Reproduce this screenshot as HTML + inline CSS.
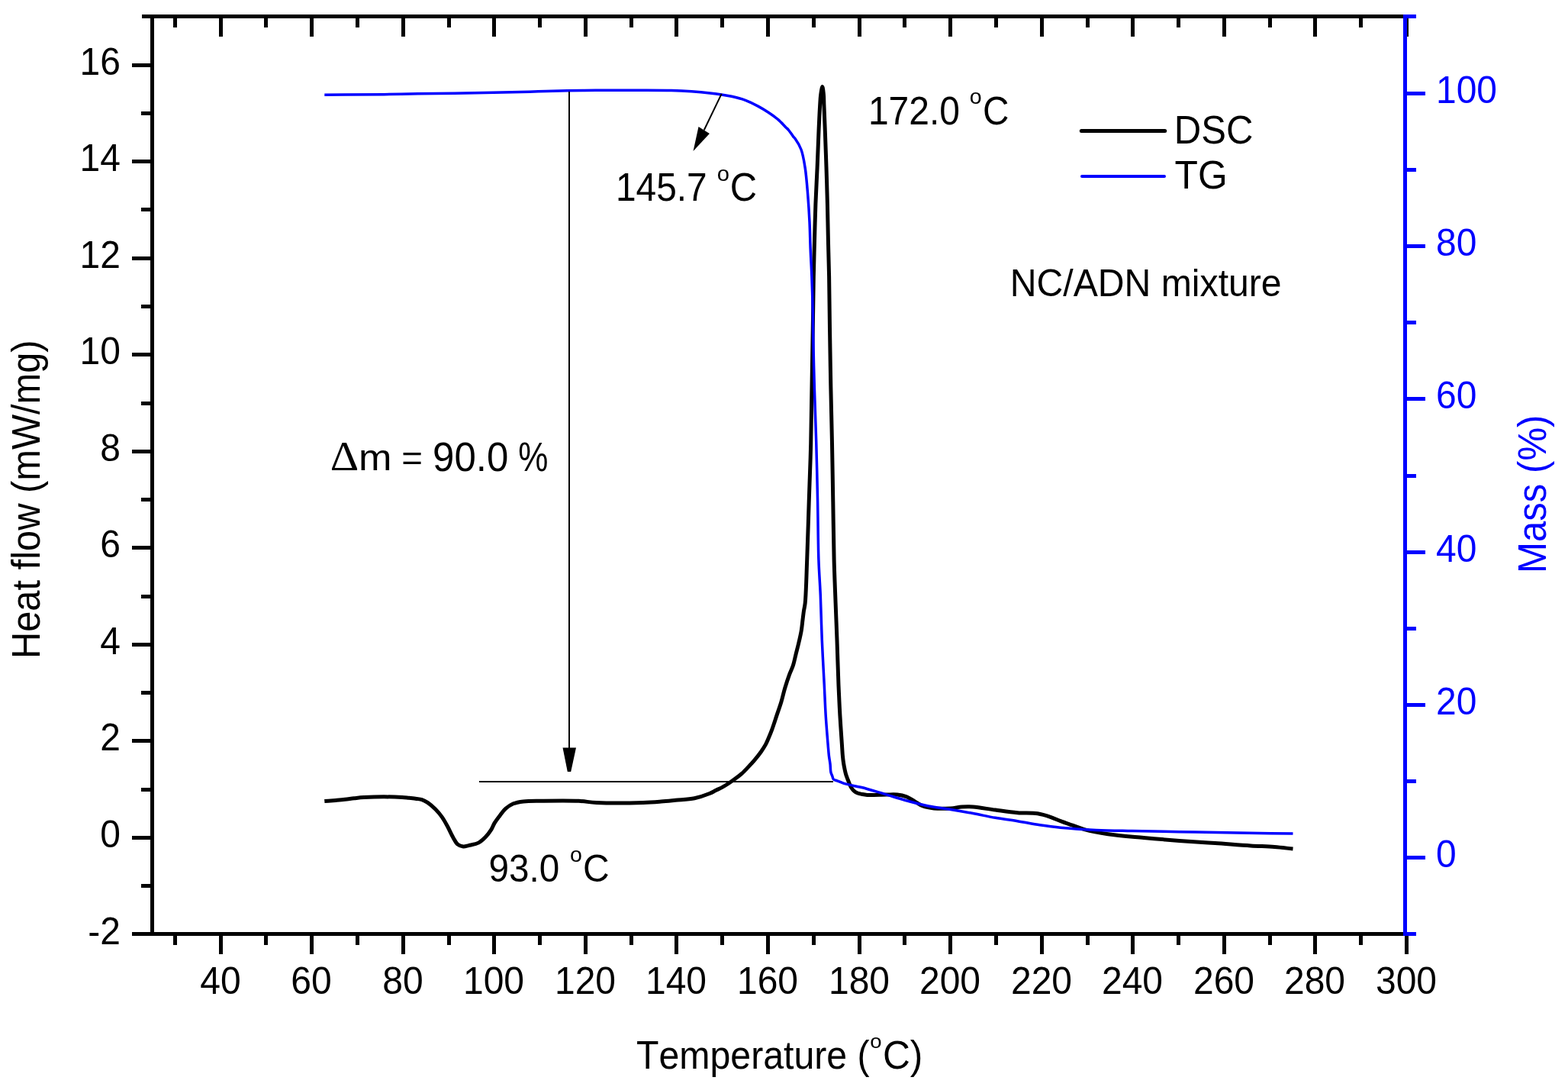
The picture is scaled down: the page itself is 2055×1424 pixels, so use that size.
<!DOCTYPE html><html><head><meta charset="utf-8"><title>DSC/TG of NC/ADN mixture</title><style>
html,body{margin:0;padding:0;background:#fff;overflow:hidden;}svg{display:block;}
text{font-family:"Liberation Sans",Arial,sans-serif;font-size:48px;font-kerning:none;}
</style></head><body>
<svg width="2055" height="1424" viewBox="0 0 2055 1424">
<rect x="0" y="0" width="2055" height="1424" fill="#fff"/>
<g fill="#000"><rect x="186" y="19" width="1658" height="5"/><rect x="173" y="1221" width="1671" height="5"/><rect x="197" y="19" width="5" height="1207"/><rect x="227.0" y="1226" width="5" height="12"/><rect x="227.0" y="24" width="5" height="12"/><rect x="287.0" y="1226" width="5" height="24"/><rect x="287.0" y="24" width="5" height="24"/><rect x="346.0" y="1226" width="5" height="12"/><rect x="346.0" y="24" width="5" height="12"/><rect x="406.0" y="1226" width="5" height="24"/><rect x="406.0" y="24" width="5" height="24"/><rect x="466.0" y="1226" width="5" height="12"/><rect x="466.0" y="24" width="5" height="12"/><rect x="526.0" y="1226" width="5" height="24"/><rect x="526.0" y="24" width="5" height="24"/><rect x="586.0" y="1226" width="5" height="12"/><rect x="586.0" y="24" width="5" height="12"/><rect x="645.0" y="1226" width="5" height="24"/><rect x="645.0" y="24" width="5" height="24"/><rect x="705.0" y="1226" width="5" height="12"/><rect x="705.0" y="24" width="5" height="12"/><rect x="765.0" y="1226" width="5" height="24"/><rect x="765.0" y="24" width="5" height="24"/><rect x="825.0" y="1226" width="5" height="12"/><rect x="825.0" y="24" width="5" height="12"/><rect x="884.0" y="1226" width="5" height="24"/><rect x="884.0" y="24" width="5" height="24"/><rect x="944.0" y="1226" width="5" height="12"/><rect x="944.0" y="24" width="5" height="12"/><rect x="1004.0" y="1226" width="5" height="24"/><rect x="1004.0" y="24" width="5" height="24"/><rect x="1064.0" y="1226" width="5" height="12"/><rect x="1064.0" y="24" width="5" height="12"/><rect x="1124.0" y="1226" width="5" height="24"/><rect x="1124.0" y="24" width="5" height="24"/><rect x="1183.0" y="1226" width="5" height="12"/><rect x="1183.0" y="24" width="5" height="12"/><rect x="1243.0" y="1226" width="5" height="24"/><rect x="1243.0" y="24" width="5" height="24"/><rect x="1303.0" y="1226" width="5" height="12"/><rect x="1303.0" y="24" width="5" height="12"/><rect x="1363.0" y="1226" width="5" height="24"/><rect x="1363.0" y="24" width="5" height="24"/><rect x="1423.0" y="1226" width="5" height="12"/><rect x="1423.0" y="24" width="5" height="12"/><rect x="1482.0" y="1226" width="5" height="24"/><rect x="1482.0" y="24" width="5" height="24"/><rect x="1542.0" y="1226" width="5" height="12"/><rect x="1542.0" y="24" width="5" height="12"/><rect x="1602.0" y="1226" width="5" height="24"/><rect x="1602.0" y="24" width="5" height="24"/><rect x="1662.0" y="1226" width="5" height="12"/><rect x="1662.0" y="24" width="5" height="12"/><rect x="1721.0" y="1226" width="5" height="24"/><rect x="1721.0" y="24" width="5" height="24"/><rect x="1781.0" y="1226" width="5" height="12"/><rect x="1781.0" y="24" width="5" height="12"/><rect x="1841.0" y="1226" width="5" height="24"/><rect x="1841.0" y="24" width="5" height="24"/><rect x="185" y="1158.0" width="12" height="5"/><rect x="173" y="1095.0" width="24" height="5"/><rect x="185" y="1032.0" width="12" height="5"/><rect x="173" y="968.0" width="24" height="5"/><rect x="185" y="905.0" width="12" height="5"/><rect x="173" y="842.0" width="24" height="5"/><rect x="185" y="779.0" width="12" height="5"/><rect x="173" y="715.0" width="24" height="5"/><rect x="185" y="652.0" width="12" height="5"/><rect x="173" y="589.0" width="24" height="5"/><rect x="185" y="526.0" width="12" height="5"/><rect x="173" y="462.0" width="24" height="5"/><rect x="185" y="399.0" width="12" height="5"/><rect x="173" y="336.0" width="24" height="5"/><rect x="185" y="272.0" width="12" height="5"/><rect x="173" y="209.0" width="24" height="5"/><rect x="185" y="146.0" width="12" height="5"/><rect x="173" y="83.0" width="24" height="5"/></g>
<path d="M425.30,1049.60C430.20,1049.20 435.35,1048.80 440.00,1048.40C444.20,1048.04 448.00,1047.73 452.00,1047.30C456.00,1046.87 459.92,1046.26 464.00,1045.80C468.24,1045.32 471.25,1044.79 477.00,1044.50C488.25,1043.93 517.08,1043.92 527.00,1044.40C531.22,1044.61 532.92,1044.98 536.00,1045.30C539.25,1045.64 542.97,1045.97 546.00,1046.40C548.55,1046.76 550.69,1046.83 553.00,1047.60C555.50,1048.43 557.84,1049.68 560.40,1051.40C563.65,1053.58 567.45,1056.94 570.60,1060.10C573.76,1063.27 576.67,1066.69 579.30,1070.40C582.02,1074.24 584.23,1078.46 586.60,1082.80C589.13,1087.43 591.56,1093.22 594.00,1097.40C595.95,1100.74 597.40,1104.16 599.80,1106.10C601.88,1107.78 604.63,1108.77 607.10,1109.00C609.50,1109.23 611.63,1108.26 614.40,1107.60C618.15,1106.71 623.74,1105.88 627.50,1103.90C630.94,1102.09 633.64,1099.35 636.30,1096.60C639.02,1093.80 641.60,1090.38 643.60,1087.20C645.42,1084.31 646.21,1081.37 648.00,1078.40C650.02,1075.05 652.81,1071.43 655.30,1068.20C657.68,1065.11 659.74,1061.94 662.60,1059.40C665.55,1056.78 669.03,1054.38 672.80,1052.80C676.76,1051.14 680.84,1050.53 685.90,1049.90C692.68,1049.06 700.58,1049.33 710.00,1049.20C723.35,1049.02 745.18,1048.67 758.40,1049.30C767.61,1049.74 772.15,1051.05 781.80,1051.50C797.38,1052.23 827.42,1051.97 843.00,1051.50C852.64,1051.21 859.01,1050.67 866.40,1050.10C873.07,1049.58 878.65,1048.97 885.40,1048.30C893.12,1047.53 902.47,1047.30 910.20,1045.70C917.25,1044.24 924.86,1041.58 930.00,1039.50C933.46,1038.10 935.59,1036.70 938.40,1035.30C941.22,1033.90 944.11,1032.63 946.90,1031.10C949.74,1029.54 952.53,1027.81 955.30,1026.00C958.13,1024.15 960.92,1022.17 963.70,1020.10C966.55,1017.98 969.45,1015.86 972.20,1013.40C975.09,1010.82 977.83,1007.83 980.60,1004.90C983.43,1001.90 986.25,998.88 989.00,995.60C991.89,992.16 995.00,988.25 997.50,984.70C999.73,981.53 1001.76,978.43 1003.40,975.40C1004.86,972.71 1005.74,970.43 1007.00,967.50C1008.55,963.89 1010.25,959.78 1011.90,955.30C1013.88,949.93 1015.90,943.37 1017.90,937.40C1019.90,931.43 1022.10,925.50 1023.90,919.50C1025.69,913.54 1026.92,907.47 1028.70,901.50C1030.49,895.50 1032.65,888.93 1034.60,883.60C1036.21,879.20 1038.03,875.91 1039.40,871.70C1040.87,867.18 1041.80,862.09 1043.00,857.30C1044.20,852.52 1045.44,847.96 1046.60,843.00C1047.85,837.66 1049.29,831.68 1050.20,826.30C1051.04,821.34 1051.43,816.47 1052.00,811.90C1052.52,807.74 1052.94,803.79 1053.50,800.00C1054.02,796.52 1054.70,794.72 1055.20,790.00C1056.39,778.84 1056.92,753.58 1057.70,733.30C1058.60,709.84 1059.37,682.69 1060.20,657.40C1061.03,632.12 1062.07,606.87 1062.70,581.60C1063.33,556.34 1063.57,531.07 1064.00,505.80C1064.43,480.53 1064.91,454.52 1065.30,430.00C1065.67,406.90 1065.89,383.22 1066.30,362.70C1066.65,345.41 1067.07,330.82 1067.50,314.90C1067.93,298.99 1068.30,283.11 1068.90,267.20C1069.50,251.27 1070.42,235.33 1071.10,219.40C1071.78,203.47 1072.35,186.25 1073.00,171.60C1073.55,159.14 1074.15,145.76 1074.70,137.00C1075.04,131.62 1075.13,128.08 1075.70,124.00C1076.21,120.32 1077.18,113.59 1077.80,113.60C1078.42,113.61 1079.05,120.33 1079.40,124.00C1079.79,128.08 1079.69,131.63 1079.90,137.00C1080.25,145.77 1080.83,159.14 1081.30,171.60C1081.86,186.25 1082.48,203.47 1083.00,219.40C1083.52,235.33 1084.00,251.27 1084.40,267.20C1084.80,283.11 1085.03,298.99 1085.40,314.90C1085.77,330.83 1086.27,345.41 1086.60,362.70C1086.99,383.22 1087.15,406.90 1087.50,430.00C1087.87,454.52 1088.30,480.53 1088.80,505.80C1089.30,531.07 1090.00,556.33 1090.50,581.60C1091.00,606.87 1091.37,632.13 1091.80,657.40C1092.23,682.69 1092.49,709.84 1093.10,733.30C1093.63,753.58 1094.43,771.79 1095.10,790.00C1095.73,806.93 1096.38,821.91 1097.00,839.00C1097.68,857.75 1098.27,880.33 1099.00,898.00C1099.59,912.43 1100.15,924.20 1100.90,937.30C1101.65,950.40 1102.86,966.94 1103.50,976.60C1103.88,982.24 1104.01,985.86 1104.40,990.00C1104.73,993.58 1105.12,996.86 1105.60,1000.00C1106.03,1002.82 1106.55,1005.43 1107.10,1008.00C1107.62,1010.42 1108.12,1012.77 1108.80,1015.00C1109.44,1017.10 1110.24,1019.03 1111.00,1021.00C1111.74,1022.93 1112.49,1024.85 1113.30,1026.70C1114.09,1028.51 1114.76,1030.38 1115.80,1032.00C1116.83,1033.61 1118.09,1035.22 1119.50,1036.40C1120.84,1037.52 1122.34,1038.33 1124.00,1039.00C1125.81,1039.73 1127.95,1040.10 1130.00,1040.50C1132.11,1040.91 1133.63,1041.23 1136.50,1041.40C1142.09,1041.74 1154.12,1041.06 1161.30,1041.00C1166.81,1040.96 1171.33,1040.50 1175.90,1041.00C1180.04,1041.45 1183.80,1042.16 1187.60,1043.60C1191.61,1045.12 1195.54,1047.97 1199.30,1050.10C1202.83,1052.10 1205.66,1054.55 1209.50,1056.00C1213.81,1057.62 1218.71,1058.37 1224.10,1058.90C1230.63,1059.54 1239.45,1059.32 1246.00,1058.90C1251.37,1058.55 1255.72,1057.32 1260.60,1057.00C1265.46,1056.69 1269.51,1056.60 1275.20,1057.00C1283.28,1057.56 1294.66,1059.82 1304.40,1061.10C1314.13,1062.38 1324.11,1063.92 1333.60,1064.70C1342.58,1065.44 1352.08,1064.58 1359.90,1065.80C1366.39,1066.81 1372.09,1068.80 1377.40,1070.60C1381.99,1072.15 1385.56,1074.02 1390.00,1075.70C1394.90,1077.56 1400.40,1079.38 1405.60,1081.20C1410.80,1083.02 1415.04,1084.93 1421.20,1086.60C1429.73,1088.92 1440.84,1091.08 1452.30,1092.80C1466.24,1094.89 1483.42,1096.07 1499.00,1097.50C1514.59,1098.93 1530.20,1100.23 1545.80,1101.40C1561.37,1102.57 1576.94,1103.42 1592.50,1104.50C1608.07,1105.58 1625.19,1107.03 1639.20,1107.90C1650.64,1108.61 1660.68,1108.75 1670.40,1109.50C1678.96,1110.16 1686.47,1111.17 1694.50,1112.00" fill="none" stroke="#000" stroke-width="5" stroke-linejoin="round" stroke-linecap="butt"/>
<path d="M425.30,124.30C451.27,124.10 480.82,124.01 503.20,123.70C520.16,123.46 531.13,123.08 547.90,122.80C569.47,122.44 597.40,122.24 621.90,121.80C646.07,121.37 676.97,120.67 693.90,120.20C703.13,119.95 706.65,119.73 715.30,119.50C728.59,119.15 750.69,118.69 765.90,118.50C778.38,118.34 786.25,118.33 800.00,118.30C821.07,118.25 860.57,117.91 880.00,118.40C891.15,118.68 897.54,119.05 906.30,119.70C915.07,120.35 925.35,121.44 932.60,122.30C937.73,122.91 941.34,123.43 945.70,124.10C950.07,124.77 954.15,125.27 958.80,126.30C964.24,127.50 970.55,128.97 976.30,131.10C982.26,133.30 988.53,136.53 993.90,139.40C998.66,141.95 1002.70,144.43 1007.00,147.30C1011.43,150.25 1016.16,153.50 1020.10,156.90C1023.77,160.06 1027.58,164.50 1030.00,166.90C1031.39,168.27 1032.09,168.70 1033.30,170.10C1035.15,172.23 1037.96,176.75 1039.60,178.80C1040.55,179.99 1041.06,180.17 1042.00,181.50C1044.02,184.35 1047.90,190.42 1050.00,196.00C1052.52,202.71 1053.72,210.73 1055.10,219.40C1056.79,230.03 1057.72,243.26 1058.70,255.20C1059.68,267.12 1060.42,279.05 1061.00,291.00C1061.58,302.95 1061.72,314.94 1062.20,326.90C1062.68,338.84 1063.41,349.91 1063.90,362.70C1064.47,377.46 1065.05,397.98 1065.30,410.40C1065.46,418.36 1065.35,421.34 1065.50,430.00C1065.79,447.03 1066.58,480.53 1067.30,505.80C1068.02,531.07 1069.08,556.33 1069.80,581.60C1070.52,606.87 1071.08,632.12 1071.60,657.40C1072.12,682.69 1072.14,711.06 1072.90,733.30C1073.50,750.75 1074.60,763.52 1075.30,780.00C1076.09,798.52 1076.47,819.34 1077.30,839.00C1078.13,858.67 1079.42,880.32 1080.30,898.00C1081.02,912.43 1081.38,924.21 1082.20,937.30C1083.02,950.41 1084.40,966.94 1085.20,976.60C1085.67,982.24 1085.90,985.78 1086.40,990.00C1086.85,993.80 1087.58,997.19 1088.00,1000.80C1088.42,1004.39 1088.24,1008.65 1088.90,1011.60C1089.38,1013.75 1090.30,1015.34 1090.90,1017.00C1091.41,1018.40 1091.38,1019.95 1092.30,1020.90C1093.31,1021.96 1095.23,1022.09 1097.00,1022.80C1099.27,1023.71 1102.18,1025.04 1104.80,1025.90C1107.35,1026.73 1109.93,1027.25 1112.50,1027.90C1115.06,1028.55 1117.52,1029.22 1120.20,1029.80C1123.07,1030.43 1125.37,1030.59 1129.20,1031.50C1136.18,1033.16 1148.68,1037.04 1158.40,1039.90C1168.14,1042.77 1177.83,1046.01 1187.60,1048.70C1197.30,1051.37 1207.02,1054.05 1216.80,1056.00C1226.49,1057.94 1236.28,1058.82 1246.00,1060.40C1255.74,1061.98 1265.48,1063.69 1275.20,1065.50C1284.94,1067.32 1294.65,1069.60 1304.40,1071.30C1314.11,1073.00 1323.88,1074.12 1333.60,1075.70C1343.34,1077.28 1353.22,1079.35 1362.80,1080.80C1372.01,1082.20 1379.70,1083.30 1390.00,1084.30C1403.46,1085.61 1421.12,1086.68 1436.70,1087.40C1452.28,1088.12 1466.79,1088.24 1483.50,1088.60C1502.78,1089.02 1525.03,1089.33 1545.80,1089.70C1566.57,1090.07 1585.64,1090.43 1608.10,1090.80C1634.55,1091.23 1665.70,1091.67 1694.50,1092.10" fill="none" stroke="#00f" stroke-width="3.5" stroke-linejoin="round" stroke-linecap="butt"/>
<g fill="#00f"><rect x="1839" y="19" width="5" height="1207"/><rect x="1844" y="1221.0" width="12" height="5"/><rect x="1844" y="1121.0" width="24" height="5"/><rect x="1844" y="1021.0" width="12" height="5"/><rect x="1844" y="921.0" width="24" height="5"/><rect x="1844" y="821.0" width="12" height="5"/><rect x="1844" y="721.0" width="24" height="5"/><rect x="1844" y="621.0" width="12" height="5"/><rect x="1844" y="520.0" width="24" height="5"/><rect x="1844" y="420.0" width="12" height="5"/><rect x="1844" y="320.0" width="24" height="5"/><rect x="1844" y="220.0" width="12" height="5"/><rect x="1844" y="120.0" width="24" height="5"/><rect x="1844" y="19.0" width="12" height="5"/></g>
<g fill="#000"><text text-anchor="end" transform="translate(158,1236.5) scale(1,1.0599)">-2</text><text text-anchor="end" transform="translate(158,1109.5) scale(1,1.0599)">0</text><text text-anchor="end" transform="translate(158,982.5) scale(1,1.0599)">2</text><text text-anchor="end" transform="translate(158,856.5) scale(1,1.0599)">4</text><text text-anchor="end" transform="translate(158,729.5) scale(1,1.0599)">6</text><text text-anchor="end" transform="translate(158,603.5) scale(1,1.0599)">8</text><text text-anchor="end" transform="translate(158,476.5) scale(1,1.0599)">10</text><text text-anchor="end" transform="translate(158,350.5) scale(1,1.0599)">12</text><text text-anchor="end" transform="translate(158,223.5) scale(1,1.0599)">14</text><text text-anchor="end" transform="translate(158,97.5) scale(1,1.0599)">16</text><text text-anchor="middle" transform="translate(289.0,1301.8) scale(1,1.0599)">40</text><text text-anchor="middle" transform="translate(408.0,1301.8) scale(1,1.0599)">60</text><text text-anchor="middle" transform="translate(528.0,1301.8) scale(1,1.0599)">80</text><text text-anchor="middle" transform="translate(647.0,1301.8) scale(1,1.0599)">100</text><text text-anchor="middle" transform="translate(767.0,1301.8) scale(1,1.0599)">120</text><text text-anchor="middle" transform="translate(886.0,1301.8) scale(1,1.0599)">140</text><text text-anchor="middle" transform="translate(1006.0,1301.8) scale(1,1.0599)">160</text><text text-anchor="middle" transform="translate(1126.0,1301.8) scale(1,1.0599)">180</text><text text-anchor="middle" transform="translate(1245.0,1301.8) scale(1,1.0599)">200</text><text text-anchor="middle" transform="translate(1365.0,1301.8) scale(1,1.0599)">220</text><text text-anchor="middle" transform="translate(1484.0,1301.8) scale(1,1.0599)">240</text><text text-anchor="middle" transform="translate(1604.0,1301.8) scale(1,1.0599)">260</text><text text-anchor="middle" transform="translate(1723.0,1301.8) scale(1,1.0599)">280</text><text text-anchor="middle" transform="translate(1843.0,1301.8) scale(1,1.0599)">300</text></g>
<g fill="#00f"><text transform="translate(1882,1136.0) scale(1,1.0599)">0</text><text transform="translate(1882,936.0) scale(1,1.0599)">20</text><text transform="translate(1882,736.0) scale(1,1.0599)">40</text><text transform="translate(1882,535.0) scale(1,1.0599)">60</text><text transform="translate(1882,335.0) scale(1,1.0599)">80</text><text transform="translate(1882,135.0) scale(1,1.0599)">100</text></g>
<text transform="translate(1323.69,388.00) scale(1.0037,1.0296)">NC/ADN mixture</text>
<text transform="translate(1538.81,187.90) scale(1.0221,1.0811)">DSC</text>
<text transform="translate(1539.56,247.00) scale(1.0371,1.0659)">TG</text>
<text transform="translate(1137.90,163.00) scale(1.0009,1.0659)">172.0</text>
<text transform="translate(1270.81,135.80) scale(0.5957,0.5615)">o</text>
<text transform="translate(1288.01,163.00) scale(0.9935,1.0659)">C</text>
<text transform="translate(806.91,263.00) scale(0.9974,1.0599)">145.7</text>
<text transform="translate(939.78,236.50) scale(0.6087,0.5577)">o</text>
<text transform="translate(956.76,263.00) scale(1.0194,1.0599)">C</text>
<text transform="translate(640.62,1154.50) scale(0.9922,1.0599)">93.0</text>
<text transform="translate(747.11,1128.70) scale(0.5957,0.5654)">o</text>
<text transform="translate(764.00,1154.50) scale(1.0000,1.0599)">C</text>
<text transform="translate(432.77,616.00) scale(1.2148,1.1562)" style="font-family:'Liberation Serif',serif">&#916;</text>
<text transform="translate(469.94,615.90) scale(1.0882,0.9923)">m</text>
<text transform="translate(526.32,615.73) scale(0.9875,0.9667)">=</text>
<text transform="translate(567.08,616.60) scale(1.0622,1.1000)">90.0</text>
<text transform="translate(679.36,617.40) scale(0.9179,1.1333)">%</text>
<text transform="translate(833.99,1399.90) scale(1.0053,1.0599)">Temperature (</text>
<text transform="translate(1140.25,1373.00) scale(0.5739,0.5385)">o</text>
<text transform="translate(1156.93,1399.90) scale(1.0348,1.0750)">C)</text>
<text transform="translate(52.06,863.07) rotate(-90) scale(1.0173,1.0901)">Heat flow (mW/mg)</text>
<text transform="translate(2026.07,750.99) rotate(-90) scale(1.0235,1.0901)" fill="#00f">Mass (%)</text>
<line x1="1417.3" y1="171.5" x2="1526.7" y2="171.5" stroke="#000" stroke-width="5" stroke-linecap="round"/>
<line x1="1418" y1="231" x2="1526" y2="231" stroke="#00f" stroke-width="4" stroke-linecap="round"/>
<line x1="945.7" y1="122.9" x2="922.7" y2="170.5" stroke="#000" stroke-width="2"/>
<polygon points="915.5,166.1 929.9,174.9 908.5,198.1" fill="#000"/>
<line x1="746" y1="120" x2="746" y2="982" stroke="#000" stroke-width="2"/>
<polygon points="737.5,979.5 755,979.5 748.2,1011 743.8,1011" fill="#000"/>
<line x1="628" y1="1024" x2="1092" y2="1024" stroke="#000" stroke-width="2"/>
</svg></body></html>
